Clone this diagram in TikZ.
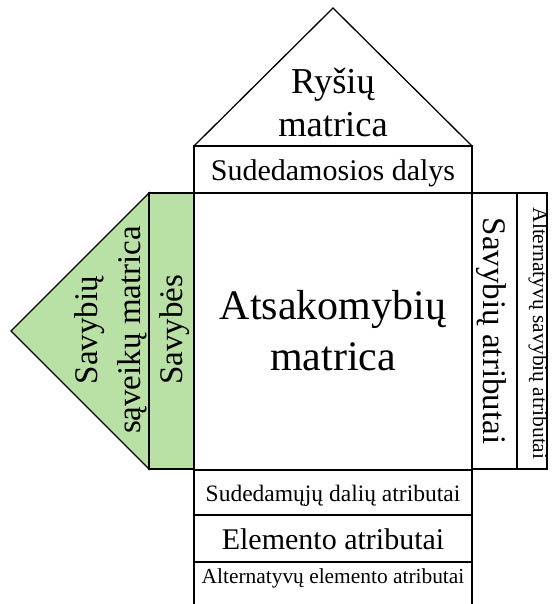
\documentclass[tikz,border=0pt]{standalone}
\usepackage{fontspec}
\setmainfont{Liberation Serif}
\definecolor{leafgreen}{HTML}{B9E0A5}
\newcommand\fsz[1]{\fontsize{#1}{#1}\selectfont}
\begin{document}
\begin{tikzpicture}[x=1pt,y=-1pt,
  frame/.style={draw=black,line width=1.3pt,line join=miter},
  greenpart/.style={frame,fill=leafgreen},
  lbl/.style={inner sep=0pt,anchor=base,text=black},
  uptext/.style={lbl,rotate=90},
  downtext/.style={lbl,rotate=-90},
]
\useasboundingbox (0,0) rectangle (552,604);

% corner points of the house
\coordinate (apex) at (333,8);
\coordinate (roofL) at (194,146);
\coordinate (roofR) at (472,146);
\coordinate (mainTL) at (194,193);
\coordinate (mainBR) at (472,470);

% left wing (green)
\filldraw[greenpart] (149,193) -- (11,331) -- (149,469) -- cycle;
\filldraw[greenpart] (149,193) rectangle (194,469);

% roof and top band
\draw[frame] (roofL) -- (apex) -- (roofR);
\draw[frame] (roofL) rectangle (mainTL -| roofR);

% central matrix
\draw[frame] (mainTL) rectangle (mainBR);

% right columns
\draw[frame] (472,193) rectangle (517,469);
\draw[frame] (517,193) rectangle (547,469);

% bottom bands
\draw[frame] (194,470) rectangle (472,515);
\draw[frame] (194,515) rectangle (472,562);
\draw[frame] (194,604) -- (194,562) -- (472,562) -- (472,604);

% labels
\node[lbl,font=\fsz{36.5}] (roofA) at (333,94) {Ryšių};
\node[lbl,font=\fsz{36.5}] (roofB) at (333,137) {matrica};
\node[lbl,font=\fsz{30}] (parts) at (333,180) {Sudedamosios dalys};
\node[lbl,font=\fsz{42}] (mainA) at (333,319) {Atsakomybių};
\node[lbl,font=\fsz{42}] (mainB) at (333,370) {matrica};
\node[lbl,font=\fsz{23.5}] (partattr) at (333,501) {Sudedamųjų dalių atributai};
\node[lbl,font=\fsz{30}] (elemattr) at (333,549) {Elemento atributai};
\node[lbl,font=\fsz{21.4}] (altelem) at (333,583) {Alternatyvų elemento atributai};

\node[uptext,font=\fsz{33}] (wingA) at (97,330) {Savybių};
\node[uptext,font=\fsz{33}] (wingB) at (140,330) {sąveikų matrica};
\node[uptext,font=\fsz{33}] (props) at (182,330) {Savybės};

\node[downtext,font=\fsz{33}] (propattr) at (483,331) {Savybių atributai};
\node[downtext,font=\fsz{21.5}] (altprop) at (533,333.5) {Alternatyvų savybių atributai};
\end{tikzpicture}
\end{document}
